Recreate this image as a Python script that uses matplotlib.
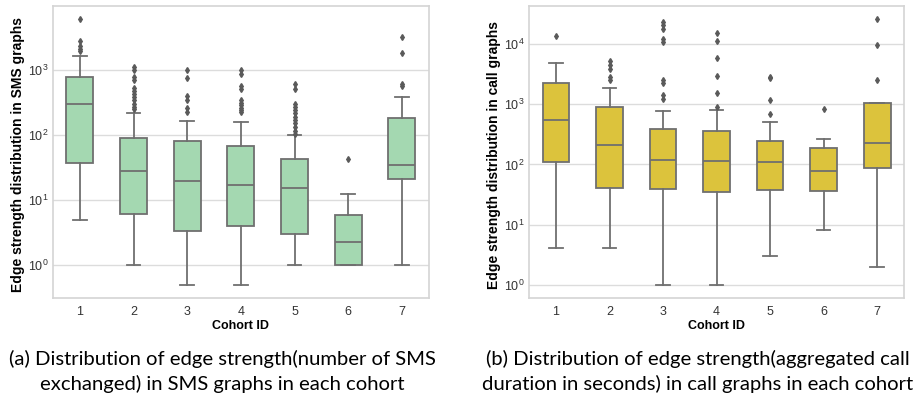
import numpy as np
import matplotlib
matplotlib.use("Agg")
from matplotlib import pyplot as plt

cohorts = ["1", "2", "3", "4", "5", "6", "7"]

# SMS graphs: box stats per cohort
sms_q1 = [37, 6.1, 3.3, 4.0, 3.0, 1.0, 21]
sms_med = [296, 28, 19.6, 17, 15, 2.3, 34]
sms_q3 = [760, 89, 80, 68, 42, 5.9, 181]
sms_lo = [5, 1, 0.5, 0.5, 1, 1, 1]
sms_hi = [1640, 212, 164, 158, 99, 12.5, 375]
sms_out = [
    [5900, 2700, 2300, 2100, 1900],
    [1100, 1000, 770, 700, 520, 470, 420, 380, 340, 300, 270, 250],
    [970, 750, 394, 345, 256, 223],
    [1000, 840, 560, 500, 340, 310, 285, 260, 240, 223],
    [590, 510, 300, 270, 240, 215, 190, 170, 150, 130, 115, 103],
    [42],
    [3100, 1800, 610, 560],
]

# call graphs: box stats per cohort (seconds)
call_q1 = [110, 40, 39, 35, 38, 36, 88]
call_med = [540, 210, 119, 116, 110, 78, 227]
call_q3 = [2240, 920, 390, 364, 249, 187, 1050]
call_lo = [4.1, 4.1, 1, 1, 3.05, 8.1, 2]
call_hi = [4900, 1850, 770, 820, 510, 270, 1070]
call_out = [
    [13900],
    [5200, 4470, 3900, 2800, 2560],
    [23500, 21000, 17700, 12300, 11000, 2560, 2300, 1450, 1250],
    [15100, 11300, 5900, 2960, 1520, 910],
    [2900, 2700, 1200, 700],
    [850],
    [26000, 9800, 2500],
]

caption_a = ["(a) Distribution of edge strength(number of SMS",
             "exchanged) in SMS graphs in each cohort"]
caption_b = ["(b) Distribution of edge strength(aggregated call",
             "duration in seconds) in call graphs in each cohort"]
ylabels = ["Edge strength distribution in SMS graphs",
           "Edge strength distribution in call graphs"]

plt.rcParams['font.family'] = ['Liberation Sans', 'DejaVu Sans']


def make_stats(q1, med, q3, lo, hi, out):
    stats = []
    for i in range(len(q1)):
        stats.append(dict(q1=q1[i], med=med[i], q3=q3[i], whislo=lo[i],
                          whishi=hi[i], fliers=out[i], label=cohorts[i]))
    return stats


def draw(ax, stats, fill, ylabel):
    line = "#6f6f6f"
    ax.bxp(stats, positions=np.arange(len(stats)), widths=0.5,
           patch_artist=True, showfliers=True,
           boxprops=dict(facecolor=fill, edgecolor=line, linewidth=1.3),
           medianprops=dict(color=line, linewidth=1.3),
           whiskerprops=dict(color=line, linewidth=1.3),
           capprops=dict(color=line, linewidth=1.3),
           flierprops=dict(marker="d", markersize=3, markerfacecolor="#5a5a5a",
                           markeredgecolor="#5a5a5a", linestyle="none"))
    ax.set_yscale("log")
    ax.set_xlim(-0.5, len(stats) - 0.5)
    ax.set_axisbelow(True)
    ax.yaxis.grid(True, which="major", color="#dcdcdc", linewidth=1)
    ax.xaxis.grid(False)
    for s in ax.spines.values():
        s.set_color("#d4d4d4")
        s.set_linewidth(1.2)
    ax.tick_params(axis="both", which="both", length=0, labelsize=9,
                   labelcolor="#333333")
    ax.tick_params(axis="x", pad=6)
    ax.tick_params(axis="y", pad=3.5)
    ax.set_xlabel("Cohort ID", fontsize=9, fontweight="bold", labelpad=1)
    ax.set_ylabel(ylabel, fontsize=10, fontweight="bold")
    ax.yaxis.set_label_coords(-0.074, 0.49)


fig = plt.figure(figsize=(9.14, 4.0), dpi=100)
ax1 = fig.add_axes([0.058, 0.255, 0.411, 0.73])
ax2 = fig.add_axes([0.579, 0.255, 0.410, 0.73])

draw(ax1, make_stats(sms_q1, sms_med, sms_q3, sms_lo, sms_hi, sms_out),
     "#a4d8b1", ylabels[0])
draw(ax2, make_stats(call_q1, call_med, call_q3, call_lo, call_hi, call_out),
     "#dcc33c", ylabels[1])

cap_font = ['Lato', 'DejaVu Sans']
for cx, lines in [(0.243, caption_a), (0.763, caption_b)]:
    for k, txt in enumerate(lines):
        fig.text(cx, 0.0875 - k * 0.0625, txt, ha="center", va="baseline",
                 fontsize=14.6, family=cap_font)

fig.savefig("out.png", dpi=100)
